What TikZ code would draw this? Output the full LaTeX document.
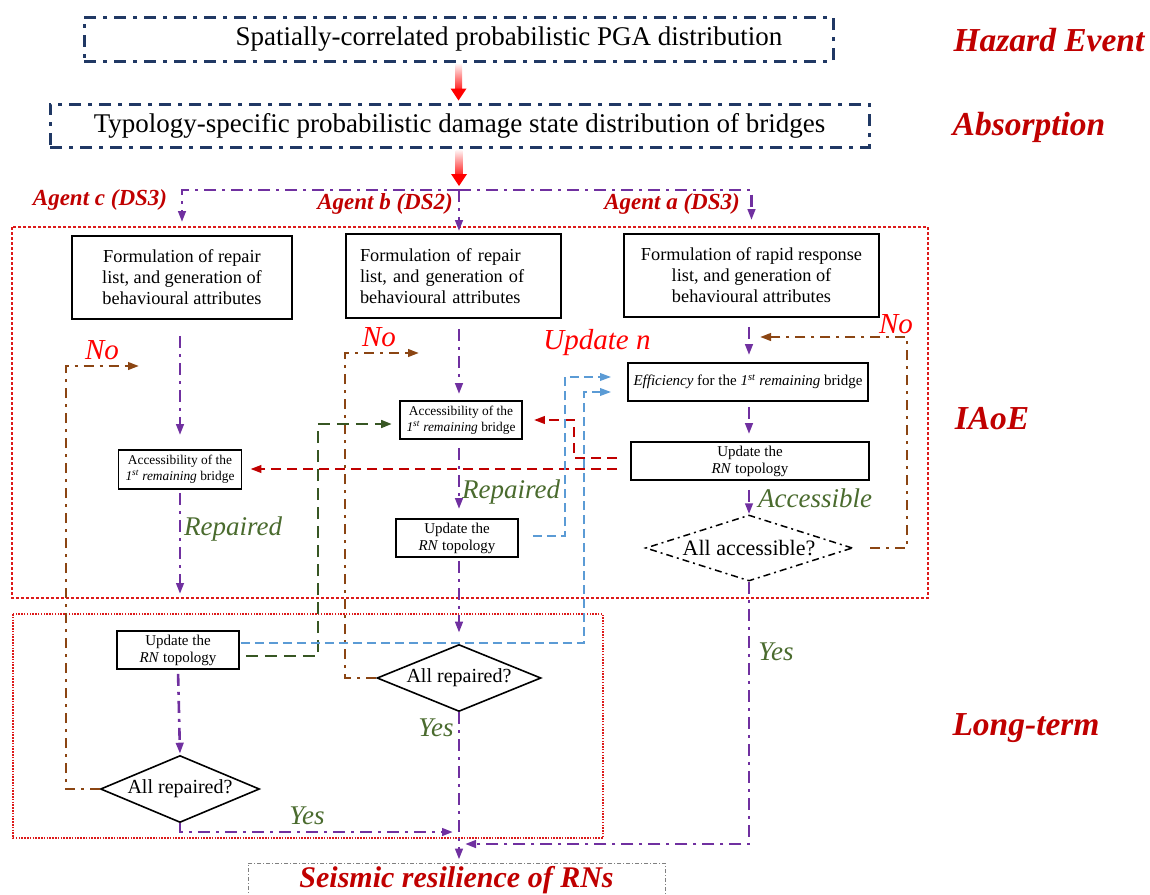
\documentclass[tikz,border=0pt]{standalone}
\usepackage{fontspec}
\setmainfont{Liberation Serif}
\usetikzlibrary{arrows.meta,shapes.geometric,calc}
\definecolor{navy}{HTML}{203864}
\definecolor{titlered}{HTML}{C00000}
\definecolor{brightred}{HTML}{FF0000}
\definecolor{lblgreen}{HTML}{4A6B2E}
\definecolor{purp}{HTML}{7030A0}
\definecolor{brn}{HTML}{8B4513}
\definecolor{bluel}{HTML}{5B9BD5}
\definecolor{dkgreen}{HTML}{375623}
\definecolor{dkred}{HTML}{C00000}
\definecolor{dotred}{HTML}{DD1A1A}
\newcommand\myfs[2]{\fontsize{#1}{#2}\selectfont}
\begin{document}
\begin{tikzpicture}[x=1pt,y=-1pt,
  navybox/.style={draw=navy, line width=3pt, dash pattern=on 12pt off 7pt on 4pt off 7pt, inner sep=0pt},
  procbox/.style={draw=black, line width=1.8pt, inner sep=0pt, align=center, text=black},
  decision/.style={draw=black, line width=1.6pt, diamond, inner sep=0pt, shape aspect=2.4},
  tipA/.style={-{Triangle[length=11pt,width=7.5pt]}},
  purpline/.style={draw=purp, line width=2.6pt, dash pattern=on 12pt off 6pt on 3pt off 6pt, tipA},
  brownline/.style={draw=brn, line width=2.4pt, dash pattern=on 10pt off 6pt on 3pt off 6pt, tipA},
  greenline/.style={draw=dkgreen, line width=2.8pt, dash pattern=on 12pt off 7pt, tipA},
  redline/.style={draw=dkred, line width=2.3pt, dash pattern=on 10pt off 6pt, tipA},
  blueline/.style={draw=bluel, line width=1.9pt, dash pattern=on 9pt off 5pt, tipA},
  phase/.style={text=titlered, font=\myfs{33.5}{40}\bfseries\itshape},
  agent/.style={text=titlered, font=\myfs{23}{28}\bfseries\itshape},
  nolbl/.style={text=brightred, font=\myfs{29}{34}\itshape},
  oklbl/.style={text=lblgreen, font=\myfs{27}{32}\itshape},
  bigtxt/.style={font=\myfs{27}{32}},
  midtxt/.style={font=\myfs{18.3}{21}},
  smalltxt/.style={font=\myfs{13.4}{16}},
  updtxt/.style={font=\myfs{15}{17}}
]
\useasboundingbox (0,0) rectangle (1150,894);

% phase regions
\draw[dotred, line width=2.8pt, dash pattern=on 2.8pt off 2.2pt] (12,227) rectangle (928,598);
\draw[dotred, line width=1.5pt, dash pattern=on 1.5pt off 1.3pt] (13,614) rectangle (603,838);

% top boxes
\node[navybox, minimum width=749pt, minimum height=44pt] (hz) at (458.5,39) {};
\node[bigtxt] (hzt) at (509,39) {Spatially-correlated probabilistic PGA distribution};
\node[navybox, minimum width=819pt, minimum height=43pt, bigtxt] (ab) at (459.5,125.5) {Typology-specific probabilistic damage state distribution of bridges};

\coordinate (split) at (459,190);
\coordinate (acol) at (749,0);

% agent c column
\node[procbox, midtxt, minimum width=220pt, minimum height=83pt] (c1) at (182,277.5) {Formulation of repair\\list, and generation of\\behavioural attributes};
\node[procbox, smalltxt, minimum width=123pt, minimum height=39pt] (c2) at (180,469.5) {Accessibility of the\\\textit{1\textsuperscript{st} remaining} bridge};
\node[procbox, updtxt, minimum width=122pt, minimum height=38pt] (c3) at (178,650) {Update the\\\textit{RN} topology};
\node[decision, font=\myfs{20}{24}, minimum width=159pt, minimum height=67pt] (dc) at (180,789) {All repaired?};

% agent b column
\node[procbox, midtxt, align=left, text width=187pt, minimum width=215pt, minimum height=84pt] (b1) at (453.5,276) {Formulation of repair\\list, and generation of\\behavioural attributes};
\node[procbox, smalltxt, minimum width=122pt, minimum height=38pt] (b2) at (461,420) {Accessibility of the\\\textit{1\textsuperscript{st} remaining} bridge};
\node[procbox, updtxt, minimum width=122pt, minimum height=38pt] (b3) at (457,538) {Update the\\\textit{RN} topology};
\node[decision, font=\myfs{20}{24}, minimum width=164pt, minimum height=67pt] (db) at (459,678) {All repaired?};

% agent a column
\node[procbox, midtxt, minimum width=255pt, minimum height=83pt] (a1) at (751.5,275.5) {Formulation of rapid response\\list, and generation of\\behavioural attributes};
\node[procbox, updtxt, minimum width=240pt, minimum height=38pt] (a2) at (748,382) {\textit{Efficiency} for the \textit{1\textsuperscript{st} remaining} bridge};
\node[procbox, updtxt, minimum width=238pt, minimum height=38pt] (a3) at (750,461) {Update the\\\textit{RN} topology};
\node[decision, draw=black, line width=1.5pt, dash pattern=on 7pt off 4pt on 2pt off 4pt, shape aspect=3.1, font=\myfs{22}{26}, minimum width=207pt, minimum height=66pt] (da) at (749,548) {All accessible?};

% final
\node[draw=gray, line width=0.8pt, dash pattern=on 4pt off 2pt on 1pt off 2pt, minimum width=417pt, minimum height=34pt, inner sep=0pt, text=titlered, font=\myfs{30}{34}\bfseries\itshape] (endbox) at (456.5,880) {Seismic resilience of RNs};

% labels
\node[phase] (lhz) at (1049,40) {Hazard Event};
\node[phase] (lab) at (1029,127) {Absorption};
\node[phase] (lia) at (992,419) {IAoE};
\node[phase] (llt) at (1026,728) {Long-term};
\node[agent] (agc) at (100,200) {Agent c (DS3)};
\node[agent] (agb) at (385,204) {Agent b (DS2)};
\node[agent] (aga) at (672,204) {Agent a (DS3)};
\node[nolbl] (noc) at (102,350) {No};
\node[nolbl] (nob) at (379,337) {No};
\node[nolbl] (noa) at (896,324) {No};
\node[nolbl] (updn) at (597,343) {Update n};
\node[oklbl] (repc) at (233,529) {Repaired};
\node[oklbl] (repb) at (511,492) {Repaired};
\node[oklbl] (acc) at (815,498) {Accessible};
\node[oklbl] (yesa) at (776,652) {Yes};
\node[oklbl] (yesb) at (436,728) {Yes};
\node[oklbl] (yesc) at (307,816) {Yes};

% gradient arrows
\shade[top color=red!6, bottom color=red!90] ($(hz.south)+(-3.5,2)$) rectangle ($(hz.south |- ab.north)+(3.5,-12)$);
\fill[red] ($(hz.south |- ab.north)+(-8,-14)$) -- ($(hz.south |- ab.north)+(8,-14)$) -- ($(hz.south |- ab.north)+(0,-2)$) -- cycle;
\shade[top color=red!6, bottom color=red!90] ($(ab.south -| split)+(-3.5,2)$) rectangle ($(split)+(3.5,-14)$);
\fill[red] ($(split)+(-8,-16)$) -- ($(split)+(8,-16)$) -- ($(split)+(0,-4)$) -- cycle;

% purple flow
\draw[purpline, shorten >=13pt] (split) -| (c1.north);
\draw[purpline, shorten >=13pt] (split) -| (a1.north);
\draw[purpline, shorten >=2pt] (split) -- (split |- b1.north);

\coordinate (cEnd) at (180,594);
\draw[purpline, shorten <=16pt, shorten >=14pt] (c1.south -| c2.north) -- (c2.north);
\draw[purpline, shorten <=3pt] (c2.south) -- (cEnd);
\draw[purpline, shorten <=4pt, shorten >=1pt] (c3.south) -- (dc.north);
\coordinate (mergeC) at (453,832);
\draw[purpline] (dc.south) |- (mergeC);

\draw[purpline, shorten <=10pt, shorten >=6pt] (b1.south -| split) -- (b2.north -| split);
\draw[purpline, shorten <=8pt, shorten >=9pt] (b2.south -| split) -- (b3.north -| split);
\draw[purpline, shorten <=3pt, shorten >=11pt] (b3.south -| split) -- (db.north -| split);
\draw[purpline, shorten >=3pt] (db.south -| split) -- (endbox.north -| split);

\draw[purpline, shorten <=9pt, shorten >=7pt] (a1.south -| acol) -- (a2.north -| acol);
\draw[purpline, shorten <=5pt, shorten >=7pt] (a2.south -| acol) -- (a3.north -| acol);
\draw[purpline, shorten <=9pt] (a3.south -| acol) -- (da.north);
\coordinate (mergeA) at (465,844);
\draw[purpline] (da.south) |- (mergeA);

% "No" loops
\coordinate (noCend) at (139,366);
\draw[brownline] (dc.west) -- ++(-34,0) |- (noCend);
\coordinate (noBend) at (419,353);
\draw[brownline] (db.west) -- ++(-31,0) |- (noBend);
\coordinate (noAend) at (760,337);
\draw[brownline, shorten <=17pt] (da.east) -- ++(54,0) |- (noAend);

% information exchange
\draw[greenline, shorten <=6pt, shorten >=7pt] ([yshift=-6pt]c3.east) -- ++(78,0) |- ([yshift=-4pt]b2.west);
\draw[redline, shorten <=13pt, shorten >=8pt] ([yshift=-8pt]a3.west) -- ([yshift=-8pt]a3.west -| c2.east);
\draw[redline, shorten <=13pt, shorten >=11pt] ([yshift=3pt]a3.west) -- ++(-56,0) |- (b2.east);
\draw[blueline, shorten <=14pt, shorten >=16pt] ([yshift=2pt]b3.east) -- ++(46,0) |- ([yshift=5pt]a2.west);
\draw[blueline, shorten <=1pt, shorten >=16pt] ([yshift=7pt]c3.east) -- ++(344,0) |- ([yshift=-10pt]a2.west);
\end{tikzpicture}
\end{document}
